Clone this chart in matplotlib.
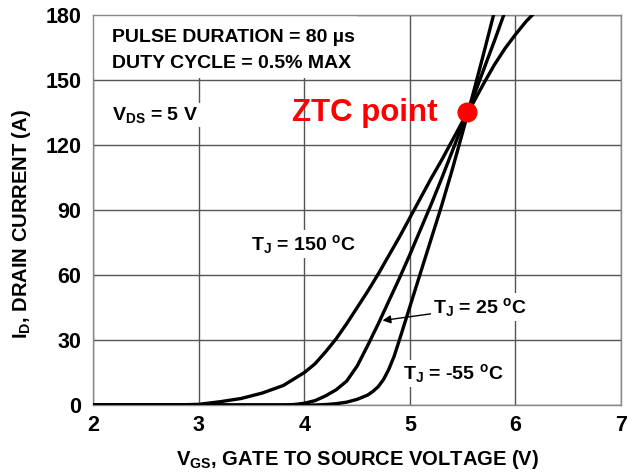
import matplotlib
matplotlib.use('Agg')
import matplotlib.pyplot as plt
from matplotlib.patches import Rectangle

plt.rcParams['font.family'] = ['Liberation Sans', 'DejaVu Sans']
plt.rcParams['font.weight'] = 'bold'
plt.rcParams['axes.labelweight'] = 'bold'
plt.rcParams['mathtext.fontset'] = 'custom'
plt.rcParams['mathtext.rm'] = 'Liberation Sans:bold'
plt.rcParams['mathtext.bf'] = 'Liberation Sans:bold'
plt.rcParams['mathtext.it'] = 'Liberation Sans:bold'

# transfer curves
vgs_150 = [2.0, 2.8, 3.0, 3.2, 3.4, 3.6, 3.8, 4.0, 4.1, 4.2, 4.3, 4.4, 4.5, 4.6, 4.7, 4.8,
           4.9, 5.0, 5.1, 5.2, 5.3, 5.4, 5.5, 5.6, 5.7, 5.8, 5.9, 6.0, 6.1, 6.2]
id_150 = [0, 0.05, 0.3, 1.5, 3, 5.5, 9, 15, 19, 24.5, 30.5, 37.5, 45, 52.5, 60.5, 69,
          77.5, 86.5, 95.5, 104.5, 113, 122, 131, 139.5, 148.5, 157, 164.5, 171, 177, 182]

vgs_25 = [2.0, 3.8, 3.9, 4.0, 4.1, 4.2, 4.3, 4.4, 4.5, 4.6, 4.7, 4.8, 4.9, 5.0,
          5.1, 5.2, 5.3, 5.4, 5.5, 5.6, 5.7, 5.8, 5.9]
id_25 = [0, 0, 0.2, 0.8, 2, 4.2, 7, 11, 18, 27.5, 37.5, 48, 58.5, 69.5,
         81, 92.5, 104.5, 117, 129.5, 142, 155, 168, 181.5]

vgs_m55 = [2.0, 4.1, 4.2, 4.3, 4.4, 4.5, 4.6, 4.65, 4.7, 4.75, 4.8, 4.85, 4.9, 5.0,
           5.1, 5.2, 5.3, 5.4, 5.5, 5.6, 5.7, 5.8]
id_m55 = [0, 0, 0.2, 0.6, 1.3, 2.6, 4.6, 6.3, 8.5, 11.8, 16.5, 22.5, 30, 45.5,
          61, 76.5, 92, 108.5, 126, 144, 162.5, 181.5]

ztc_v = 5.545
ztc_i = 135

xticks = [2, 3, 4, 5, 6, 7]
yticks = [0, 30, 60, 90, 120, 150, 180]

fig = plt.figure(figsize=(6.34, 4.73), dpi=100)
ax = fig.add_axes([0.1473, 0.1438, 0.8322, 0.8245])

ax.set_xlim(2, 7)
ax.set_ylim(0, 180)
ax.set_xticks(xticks)
ax.set_yticks(yticks)
ax.tick_params(length=0, labelsize=15.5, pad=7)
ax.tick_params(axis='y', pad=8.5)
ax.set_axisbelow(True)
ax.grid(True, color='#555555', lw=1.0)
for sp in ax.spines.values():
    sp.set_color('#888888')
    sp.set_linewidth(1.0)

# white patch behind the test-condition note
ax.add_patch(Rectangle((0, 0.839), 0.5, 0.161, transform=ax.transAxes,
                       facecolor='white', edgecolor='none', zorder=1))

for v, i in [(vgs_150, id_150), (vgs_25, id_25), (vgs_m55, id_m55)]:
    ax.plot(v, i, color='black', lw=2.4, zorder=3, solid_capstyle='round')

ax.plot([ztc_v], [ztc_i], 'o', color='red', ms=13.5, zorder=4)

ax.text(2.18, 169.4, 'PULSE DURATION = 80 µs', fontsize=14, va='center', zorder=5)
ax.text(2.18, 157.8, 'DUTY CYCLE = 0.5% MAX', fontsize=14, va='center', zorder=5)

wb = dict(facecolor='white', edgecolor='none', pad=1.5)
ax.text(2.18, 133.8, 'V$_{DS}$ = 5 V', fontsize=14, va='center', bbox=wb, zorder=5)
ax.text(3.886, 134.7, 'ZTC point', fontsize=22.5, color='red', va='center', zorder=5)
ax.text(3.49, 74.3, 'T$_J$ = 150 $^{o}$C', fontsize=14, va='center', bbox=wb, zorder=5)
ax.annotate('T$_J$ = 25 $^{o}$C', xy=(4.74, 39), xytext=(5.22, 45.2),
            fontsize=14, va='center', bbox=wb, zorder=5,
            arrowprops=dict(arrowstyle='-|>', color='black', lw=1,
                            mutation_scale=12, shrinkA=0, shrinkB=0))
ax.text(4.93, 14.6, 'T$_J$ = -55 $^{o}$C', fontsize=14, va='center', bbox=wb, zorder=5)

ax.set_xlabel('V$_{GS}$, GATE TO SOURCE VOLTAGE (V)', fontsize=14.5)
ax.set_ylabel('I$_D$, DRAIN CURRENT (A)', fontsize=14.5)
ax.xaxis.set_label_coords(0.5, -0.11)
ax.yaxis.set_label_coords(-0.114, 0.465)

fig.savefig('out.png', dpi=100)
